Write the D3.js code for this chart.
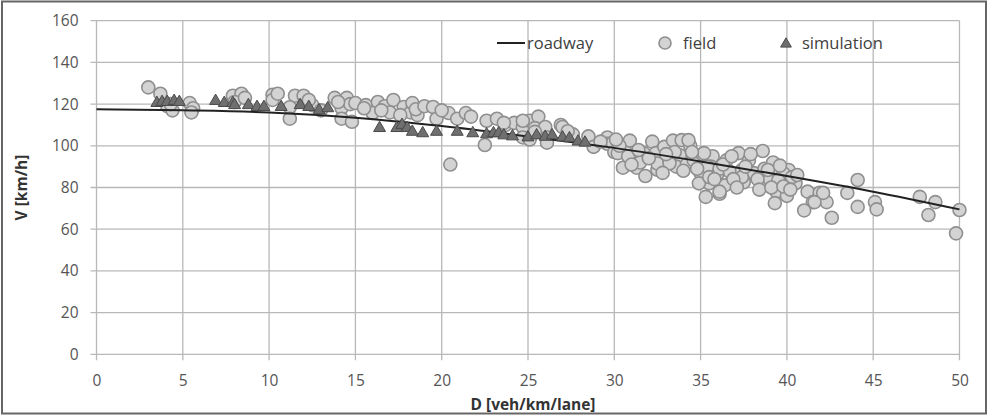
<!DOCTYPE html>
<html><head><meta charset="utf-8">
<script src="https://cdn.jsdelivr.net/npm/d3@7"></script>
<style>
html,body{margin:0;padding:0;background:#fff;}
svg{display:block;}
text{font-family:"Open Sans",sans-serif;}
</style></head>
<body>
<svg id="chart" width="1002" height="415"></svg>
<script>
// ---- data ----
const xTicks = [0,5,10,15,20,25,30,35,40,45,50];
const yTicks = [0,20,40,60,80,100,120,140,160];

const roadwayD = [0,5,10,15,20,25,30,35,40,45,50];
const roadwayV = [117.5,117,116,113.5,109.5,104.5,99,92.5,85.5,78,69.5];

const fieldD = [3.0,3.7,4.1,4.4,4.3,5.4,5.6,5.5,
 7.9,8.4,8.0,8.6,10.2,10.2,10.5,
 11.5,11.2,11.2,12.0,12.5,12.3,13.0,
 13.8,14.5,14.2,14.7,14.2,14.8,15.0,14.0,
 15.6,16.3,16.0,15.5,16.7,17.2,17.0,16.5,
 17.8,18.2,17.6,18.3,18.6,18.5,19.0,
 19.5,19.7,20.4,20.9,21.4,21.7,20.5,20.0,
 22.6,23.2,22.5,23.7,24.2,24.7,25.1,25.6,25.4,26.0,24.7,26.1,23.6,24.7,25.1,25.4,26.1,
 26.9,27.0,27.6,28.5,28.8,27.3,
 29.6,29.6,29.9,30.0,30.6,30.9,30.2,30.5,31.1,30.3,
 31.7,31.3,31.8,32.2,32.4,32.5,32.5,31.5,
 32.9,33.2,33.4,33.8,33.9,33.6,34.2,34.4,34.3,33.2,34.6,
 35.1,35.7,35.0,35.2,35.6,35.5,36.0,36.5,35.4,36.1,34.9,35.5,36.4,35.3,36.1,36.1,
 36.7,37.2,37.8,37.4,38.0,37.5,37.4,38.1,
 38.6,38.7,39.2,39.6,40.1,38.6,39.0,39.7,40.5,39.4,39.3,40.0,39.8,40.3,38.9,39.5,
 41.2,41.9,41.5,42.3,41.0,42.6,42.1,41.6,
 43.5,44.1,44.1,45.1,45.2,
 47.7,48.6,48.2,50.0,49.8,
 30.8,31.0,32.0,32.8,33.5,34.0,34.8,35.8,36.3,36.9,37.1,37.6,38.3,38.4,39.1,39.8,40.2,40.6,
 34.5,33.0,31.4,30.1,29.2,36.8,37.9,39.6];
const fieldV = [128,125,119,117,120,120.5,118,116,
 124,125,121,123,124.5,122,125,
 124,118.5,113,124,119.5,122,117,
 123,123,118,120,113,111.5,120.5,121,
 119.5,121,115.7,118,119,122,116,117,
 118.6,116,114.7,120.5,114.7,117.5,119,
 118.6,113,115.7,113,115.7,114,91,117,
 112,113,100.4,110,111,109,112,114,108.5,109,104,104,111,112,103,106.7,101.5,
 110,109,105.5,104.5,99.5,107,
 104,101,101.5,97,99.5,102.5,96.5,89.5,94.5,100,
 96.5,89.5,85.5,102,96.5,88.5,91.5,92,
 99.5,93,102.5,95.5,102.7,90,91,100,102.7,91.6,93,
 96,95,86.8,96.5,90,82,86.8,93,90,89,82,85,81,75.5,77,78,
 87.5,96.5,93,88.4,87,82.5,85,86.8,
 97.5,89,92,87,88.4,82.5,84,83.5,82,78,72.5,76,86.8,85,88.4,83.5,
 78,77.5,73,73,69,65.5,77.4,73,
 77.4,83.6,70.7,73,69.5,
 75.5,73,66.8,69.2,58,
 95,91,94,87,97,88,89,84,91,84,80,90,84,79,80,80.5,79,86,
 97,96,98,103,102,95,96,90.5];

const simD = [3.5,3.8,4.1,4.5,4.8,6.9,7.4,7.9,8.0,8.8,9.3,9.7,10.7,11.8,12.3,12.9,13.4,
 16.4,17.4,17.7,18.0,18.3,18.9,19.7,20.9,21.8,22.6,23.0,23.3,23.6,24.1,25.0,25.5,26.0,26.4,27.0,27.4,27.9,28.3];
const simV = [120.5,121,121,121.5,121,121.5,120.5,120.5,119.5,119.5,118.6,118.6,118.6,119.5,118.6,117,118,
 108.5,108.5,110,108.5,106.7,106,106.7,106.7,106,105.5,106,106,105,104.5,104,105,104.3,105,104,103.6,102,101.5];

const legendLabels = ["roadway","field","simulation"];
const xTitle = "D [veh/km/lane]";
const yTitle = "V [km/h]";

// ---- layout ----
const svg = d3.select("#chart");
const pL = 96.5, pR = 959.5, pT = 20.7, pB = 354.3;
const x = d3.scaleLinear().domain([0,50]).range([pL,pR]);
const y = d3.scaleLinear().domain([0,160]).range([pB,pT]);

// outer frame
svg.append("rect").attr("x",2).attr("y",1.5).attr("width",984).attr("height",412)
  .attr("fill","#fff").attr("stroke","#666").attr("stroke-width",2);

// grid
const grid = svg.append("g").attr("stroke","#b8b8b8").attr("stroke-width",1.3);
grid.selectAll(".v").data(xTicks).join("line")
  .attr("x1",d=>x(d)).attr("x2",d=>x(d)).attr("y1",pT).attr("y2",pB+6);
grid.selectAll(".h").data(yTicks).join("line")
  .attr("x1",pL-6).attr("x2",pR).attr("y1",d=>y(d)).attr("y2",d=>y(d));

// axes labels via d3 axes
const xAxis = svg.append("g").attr("transform",`translate(0,${pB})`)
  .call(d3.axisBottom(x).tickValues(xTicks).tickSize(0).tickPadding(21));
xAxis.select(".domain").remove();
xAxis.selectAll("text").attr("font-size",15.5).attr("fill","#555").attr("font-family","Open Sans");

const yAxis = svg.append("g").attr("transform",`translate(${pL},0)`)
  .call(d3.axisLeft(y).tickValues(yTicks).tickSize(0).tickPadding(18));
yAxis.select(".domain").remove();
yAxis.selectAll("text").attr("font-size",15.5).attr("fill","#555").attr("font-family","Open Sans");

// field circles
const field = fieldD.map((d,i)=>({d, v: fieldV[i]}));
svg.append("g").selectAll("circle").data(field).join("circle")
  .attr("cx",p=>x(p.d)).attr("cy",p=>y(p.v)).attr("r",6.5)
  .attr("fill","#d3d3d3").attr("stroke","#8f8f8f").attr("stroke-width",1.6);

// roadway line
const road = roadwayD.map((d,i)=>({d, v: roadwayV[i]}));
svg.append("path").datum(road)
  .attr("d",d3.line().x(p=>x(p.d)).y(p=>y(p.v)).curve(d3.curveMonotoneX))
  .attr("fill","none").attr("stroke","#222").attr("stroke-width",2);

// simulation triangles
const sim = simD.map((d,i)=>({d, v: simV[i]}));
const tri = d3.symbol().type(d3.symbolTriangle).size(62);
svg.append("g").selectAll("path").data(sim).join("path")
  .attr("d",tri).attr("transform",p=>`translate(${x(p.d)},${y(p.v)})`)
  .attr("fill","#6f6f6f").attr("stroke","#4a4a4a").attr("stroke-width",1);

// legend
const lg = svg.append("g");
const ly = 43;
lg.append("line").attr("x1",497).attr("x2",525).attr("y1",ly).attr("y2",ly)
  .attr("stroke","#222").attr("stroke-width",2);
lg.append("text").attr("x",527).attr("y",ly).attr("dy","0.35em")
  .attr("font-size",16.5).attr("fill","#404040").text(legendLabels[0]);
lg.append("circle").attr("cx",665).attr("cy",ly).attr("r",6)
  .attr("fill","#d3d3d3").attr("stroke","#8f8f8f").attr("stroke-width",1.6);
lg.append("text").attr("x",683).attr("y",ly).attr("dy","0.35em")
  .attr("font-size",16.5).attr("fill","#404040").text(legendLabels[1]);
lg.append("path").attr("d",d3.symbol().type(d3.symbolTriangle).size(50))
  .attr("transform",`translate(786,${ly+1})`).attr("fill","#6f6f6f").attr("stroke","#4a4a4a");
lg.append("text").attr("x",802).attr("y",ly).attr("dy","0.35em")
  .attr("font-size",16.5).attr("fill","#404040").text(legendLabels[2]);

// axis titles
svg.append("text").attr("x",(pL+pR)/2+5).attr("y",410).attr("text-anchor","middle")
  .attr("font-size",15.5).attr("font-weight","bold").attr("fill","#333").text(xTitle);
svg.append("text").attr("transform",`translate(27,${(pT+pB)/2}) rotate(-90)`)
  .attr("text-anchor","middle").attr("font-size",15.5).attr("font-weight","bold").attr("fill","#333").text(yTitle);
</script>
</body></html>
